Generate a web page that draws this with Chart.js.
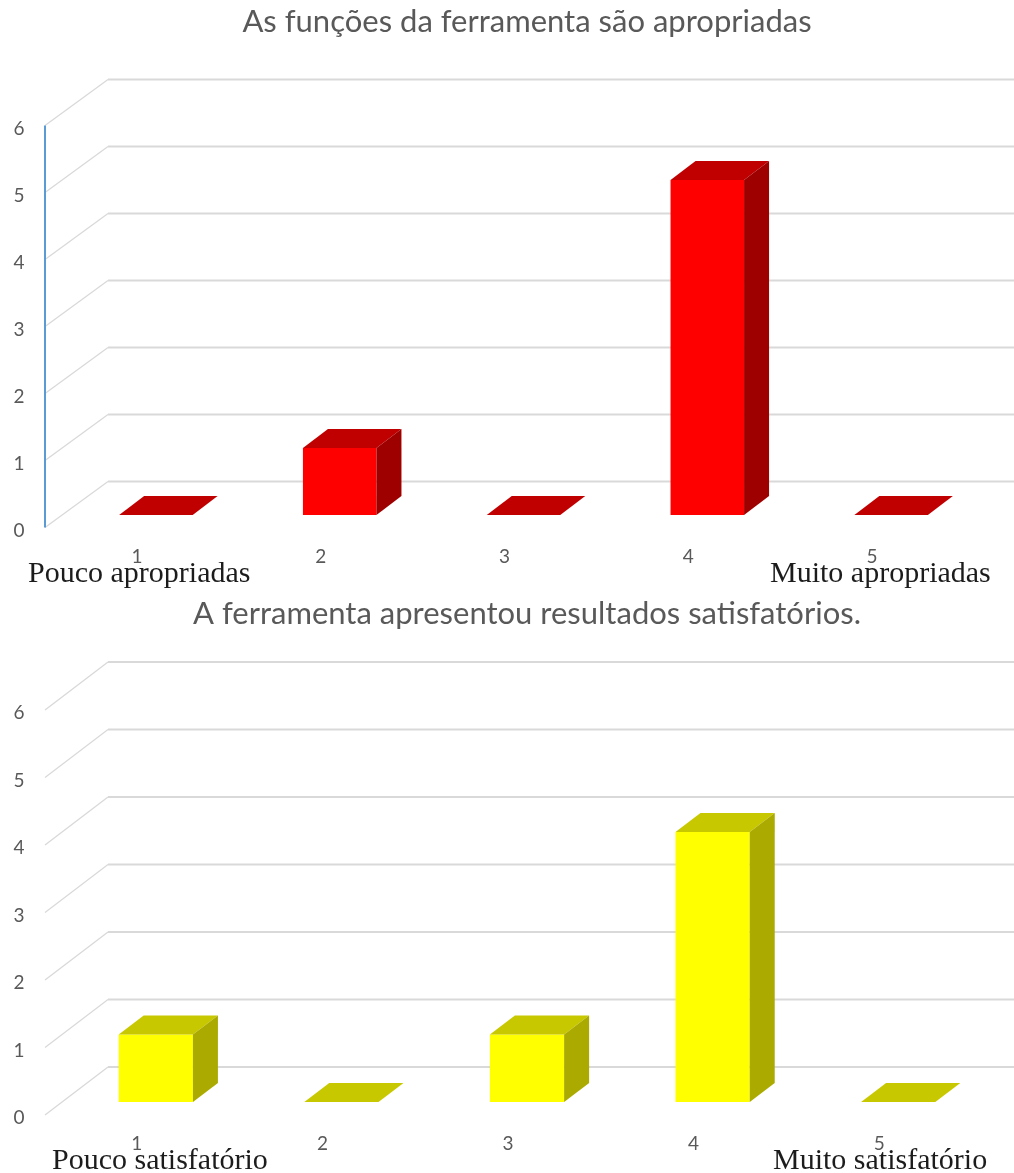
<!DOCTYPE html>
<html lang="pt">
<head>
<meta charset="utf-8">
<title>Avaliação da ferramenta</title>
<script src="https://cdn.jsdelivr.net/npm/chart.js@4.4.1/dist/chart.umd.min.js"></script>
<style>
  html, body { margin: 0; padding: 0; background: #fff; }
  body { width: 1014px; height: 1173px; position: relative; overflow: hidden; }
  canvas { position: absolute; left: 0; }
  #chartFuncoes { top: 0; }
  #chartResultados { top: 590px; }
  .scale-note {
    position: absolute;
    font-family: "Liberation Serif", "Times New Roman", serif;
    font-size: 30px;
    line-height: 30px;
    color: #1c1c1c;
    white-space: nowrap;
  }
</style>
</head>
<body>
<canvas id="chartFuncoes" width="1014" height="590"></canvas>
<canvas id="chartResultados" width="1014" height="583"></canvas>
<div class="scale-note" style="left:28px; top:557px;">Pouco apropriadas</div>
<div class="scale-note" style="left:770px; top:557px;">Muito apropriadas</div>
<div class="scale-note" style="left:52px; top:1144px;">Pouco satisfatório</div>
<div class="scale-note" style="left:773px; top:1144px;">Muito satisfatório</div>

<script>
// Answers on a 1-5 scale, count of respondents per answer
const categories = ['1', '2', '3', '4', '5'];
const funcoesValues = [0, 1, 0, 5, 0];
const resultadosValues = [1, 0, 1, 4, 0];
const yTicks = [0, 1, 2, 3, 4, 5, 6];

const funcoesTitle = 'As funções da ferramenta são apropriadas';
const resultadosTitle = 'A ferramenta apresentou resultados satisfatórios.';

const textGray = '#595959';
const gridGray = '#d9d9d9';

// Draws the fake 3D walls, the top/side faces of each column and the labels
const column3d = {
    id: 'column3d',
    beforeDatasetsDraw(chart, args, opts) {
        const ctx = chart.ctx;
        const yScale = chart.scales.y;
        ctx.save();
        ctx.strokeStyle = gridGray;
        yTicks.forEach(v => {
            const py = yScale.getPixelForValue(v);
            // left side wall
            ctx.lineWidth = 1.3;
            ctx.beginPath();
            ctx.moveTo(opts.frontX, py + opts.frontDy);
            ctx.lineTo(opts.backX, py + opts.backDy);
            ctx.stroke();
            // back wall
            ctx.lineWidth = 2;
            ctx.beginPath();
            ctx.moveTo(opts.backX, py + opts.backDy);
            ctx.lineTo(chart.width, py + opts.backDy);
            ctx.stroke();
        });
        if (opts.axisColor) {
            ctx.strokeStyle = opts.axisColor;
            ctx.lineWidth = 2;
            ctx.beginPath();
            ctx.moveTo(opts.frontX, yScale.getPixelForValue(yTicks[yTicks.length - 1]) + opts.frontDy);
            ctx.lineTo(opts.frontX, yScale.getPixelForValue(0) + opts.frontDy);
            ctx.stroke();
        }
        ctx.restore();
    },
    afterDatasetsDraw(chart, args, opts) {
        const ctx = chart.ctx;
        const dx = opts.depthX;
        const dy = opts.depthY;
        ctx.save();
        chart.getDatasetMeta(0).data.forEach(bar => {
            const { x, y, base, width } = bar.getProps(['x', 'y', 'base', 'width'], true);
            const l = x - width / 2;
            const r = x + width / 2;
            // top face
            ctx.fillStyle = opts.topColor;
            ctx.beginPath();
            ctx.moveTo(l, y);
            ctx.lineTo(r, y);
            ctx.lineTo(r + dx, y + dy);
            ctx.lineTo(l + dx, y + dy);
            ctx.closePath();
            ctx.fill();
            // right side face
            if (base - y > 0.5) {
                ctx.fillStyle = opts.sideColor;
                ctx.beginPath();
                ctx.moveTo(r, y);
                ctx.lineTo(r + dx, y + dy);
                ctx.lineTo(r + dx, base + dy);
                ctx.lineTo(r, base);
                ctx.closePath();
                ctx.fill();
            }
        });
        ctx.restore();
    },
    afterDraw(chart, args, opts) {
        const ctx = chart.ctx;
        const xScale = chart.scales.x;
        const yScale = chart.scales.y;
        ctx.save();
        ctx.fillStyle = textGray;

        // chart title
        ctx.font = '31px Lato, "Open Sans", sans-serif';
        ctx.textAlign = 'center';
        ctx.textBaseline = 'middle';
        ctx.fillText(opts.title, chart.width / 2 + 20, opts.titleY);

        // value axis labels on the front edge
        ctx.font = '19px Lato, "Open Sans", sans-serif';
        yTicks.forEach(v => {
            ctx.fillText(String(v), opts.tickX, yScale.getPixelForValue(v) + opts.frontDy + 3);
        });

        // category labels
        categories.forEach((c, i) => {
            ctx.fillText(c, xScale.getPixelForValue(i) + opts.labelDx, yScale.getPixelForValue(0) + opts.labelDy);
        });
        ctx.restore();
    }
};

function buildChart(canvasId, values, colors, geo) {
    return new Chart(document.getElementById(canvasId), {
        type: 'bar',
        data: {
            labels: categories,
            datasets: [{
                data: values,
                backgroundColor: colors.front,
                borderWidth: 0,
                barPercentage: 0.4,
                categoryPercentage: 1
            }]
        },
        options: {
            responsive: false,
            animation: false,
            events: [],
            layout: { padding: geo.padding },
            scales: {
                x: { display: false },
                y: { display: false, min: 0, max: 6 }
            },
            plugins: {
                legend: { display: false },
                tooltip: { enabled: false },
                column3d: {
                    title: geo.title,
                    titleY: geo.titleY,
                    frontX: 45,
                    backX: 108,
                    frontDy: geo.frontDy,
                    backDy: geo.backDy,
                    tickX: 19,
                    labelDx: -19,
                    labelDy: 42,
                    depthX: 25,
                    depthY: -19,
                    topColor: colors.top,
                    sideColor: colors.side,
                    axisColor: geo.axisColor
                }
            }
        },
        plugins: [column3d]
    });
}

function init() {
    buildChart('chartFuncoes', funcoesValues,
        { front: '#ff0000', top: '#c00000', side: '#9e0000' },
        {
            title: funcoesTitle,
            titleY: 22,
            padding: { left: 64, right: 31, top: 113, bottom: 75 },
            frontDy: 12.5,
            backDy: -33.5,
            axisColor: '#5b9bd5'
        });

    buildChart('chartResultados', resultadosValues,
        { front: '#ffff00', top: '#c8c800', side: '#aaaa00' },
        {
            title: resultadosTitle,
            titleY: 24,
            padding: { left: 63, right: 23, top: 107, bottom: 71 },
            frontDy: 13,
            backDy: -35,
            axisColor: null
        });
}

document.fonts.load('31px Lato').then(init, init);
</script>
</body>
</html>
